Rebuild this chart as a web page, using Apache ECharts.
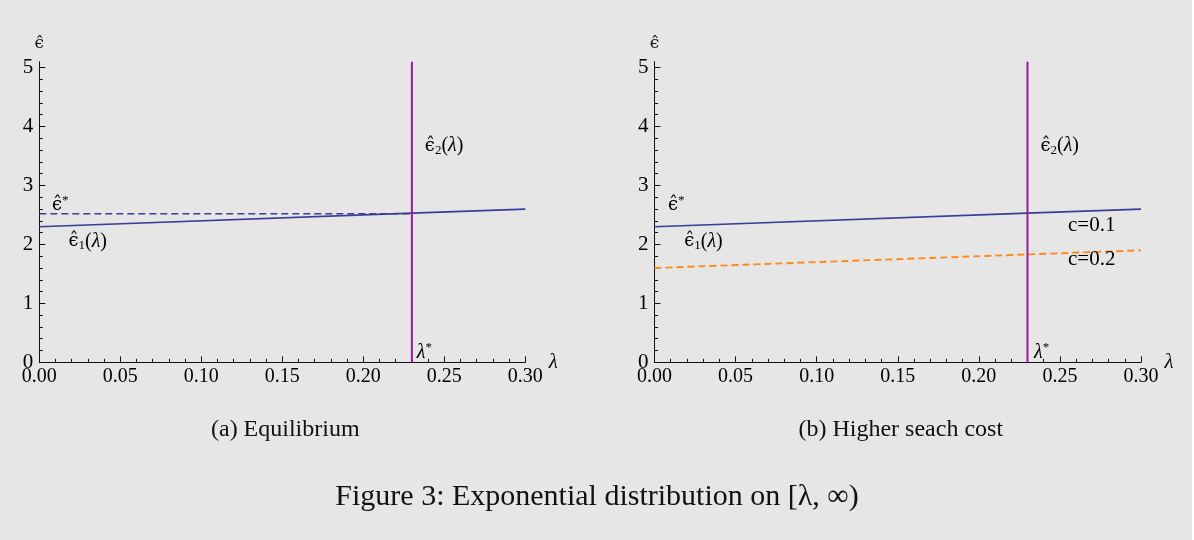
<!DOCTYPE html>
<html><head><meta charset="utf-8">
<script src="https://cdn.jsdelivr.net/npm/echarts@6/dist/echarts.min.js"></script>
<style>
html,body{margin:0;padding:0;background:#ffffff;}
#c{position:absolute;left:0;top:0;width:1192px;height:540px;background:#e6e6e6;}
</style>
</head><body><div id="c"></div>
<script>
// ---- data ----
const lambdaVals   = [0, 0.23, 0.30];          // λ sample points
const eps1_c01     = [2.30, 2.53, 2.60];        // ε̂1(λ), c = 0.1
const eps1_c02     = [1.60, 1.83, 1.90];        // ε̂1(λ), c = 0.2
const epsStarLam   = [0, 0.23];                 // ε̂* dashed line extent
const epsStarVals  = [2.52, 2.52];              // ε̂*
const lambdaStar   = 0.23;                      // λ*
const eps2Span     = [0, 5.1];                  // vertical ε̂2(λ) line span
const xTickVals    = [0, 0.05, 0.10, 0.15, 0.20, 0.25, 0.30];
const yTickVals    = [0, 1, 2, 3, 4, 5];
const yMinorVals   = [0.2,0.4,0.6,0.8,1.2,1.4,1.6,1.8,2.2,2.4,2.6,2.8,3.2,3.4,3.6,3.8,4.2,4.4,4.6,4.8];
const subCaptions  = ['(a) Equilibrium', '(b) Higher seach cost'];
const figCaption   = 'Figure 3: Exponential distribution on [λ, ∞)';

// ---- styling ----
const BLUE = '#3d3d99', PURPLE = '#9b1c9b', ORANGE = '#ff8a1a', INK = '#111111';
const SERIF = '"Liberation Serif","DejaVu Serif",serif';
const MATHF = '"DejaVu Serif","Liberation Serif",serif';

const zip = (a, b) => a.map((v, i) => [v, b[i]]);

function xAxisFor(grid) {
  return {
    type: 'value', gridIndex: grid, min: 0, max: 0.3, interval: 0.05,
    name: 'λ', nameLocation: 'end', nameGap: 8,
    nameTextStyle: {fontFamily: SERIF, fontSize: 21, fontStyle: 'italic', color: INK, verticalAlign: 'middle'},
    axisLine: {show: true, onZero: false, lineStyle: {color: INK, width: 1}},
    axisTick: {show: true, inside: true, length: 6, lineStyle: {color: INK, width: 1}},
    minorTick: {show: true, splitNumber: 5, length: 3.5, lineStyle: {color: INK, width: 1}},
    splitLine: {show: false}, minorSplitLine: {show: false},
    axisLabel: {show: true, margin: 4, fontFamily: SERIF, fontSize: 20, color: '#000',
      formatter: v => v.toFixed(2)}
  };
}
function yAxesFor(grid) {
  return [{
    type: 'value', gridIndex: grid, min: 0, max: 5.1,
    name: 'ϵ̂', nameLocation: 'end', nameGap: 10,
    nameTextStyle: {fontFamily: MATHF, fontSize: 17, color: INK, align: 'center'},
    axisLine: {show: true, onZero: false, lineStyle: {color: INK, width: 1}},
    axisTick: {show: true, inside: true, length: 6, customValues: yTickVals, lineStyle: {color: INK, width: 1}},
    splitLine: {show: false},
    axisLabel: {show: true, margin: 6, fontFamily: SERIF, fontSize: 21, color: '#000', customValues: yTickVals}
  }, {
    type: 'value', gridIndex: grid, min: 0, max: 5.1, position: 'left',
    axisLine: {show: false},
    axisTick: {show: true, inside: true, length: 3.5, customValues: yMinorVals, lineStyle: {color: INK, width: 1}},
    splitLine: {show: false},
    axisLabel: {show: false}
  }];
}
function lineSeries(xi, yi, data, color, width, dashed, z) {
  return {
    type: 'line', xAxisIndex: xi, yAxisIndex: yi, data: data, symbol: 'none',
    animation: false, silent: true, z: z || 2,
    lineStyle: {color: color, width: width, type: dashed ? [7, 4] : 'solid'}
  };
}

const grids = [
  {left: 39.3, top: 61.7, width: 486, height: 300.6},
  {left: 654.5, top: 61.7, width: 486.5, height: 300.6}
];

const chart = echarts.init(document.getElementById('c'), null, {renderer: 'canvas'});
chart.setOption({
  backgroundColor: '#e6e6e6',
  animation: false,
  grid: grids,
  xAxis: [xAxisFor(0), xAxisFor(1)],
  yAxis: [...yAxesFor(0), ...yAxesFor(1)],
  series: [
    lineSeries(0, 0, zip(epsStarLam, epsStarVals), BLUE, 1.4, true, 2),
    lineSeries(0, 0, zip(lambdaVals, eps1_c01), BLUE, 1.7, false, 3),
    lineSeries(0, 0, [[lambdaStar, eps2Span[0]], [lambdaStar, eps2Span[1]]], PURPLE, 2, false, 4),
    lineSeries(1, 2, zip(lambdaVals, eps1_c01), BLUE, 1.7, false, 3),
    lineSeries(1, 2, zip(lambdaVals, eps1_c02), ORANGE, 1.9, true, 3),
    lineSeries(1, 2, [[lambdaStar, eps2Span[0]], [lambdaStar, eps2Span[1]]], PURPLE, 2, false, 4)
  ]
});

// ---- annotations (placed in data coordinates) ----
const rich = {
  e:   {fontFamily: MATHF, fontSize: 18, color: INK},
  t:   {fontFamily: SERIF, fontSize: 20, color: INK},
  l:   {fontFamily: SERIF, fontSize: 20, fontStyle: 'italic', color: INK},
  c:   {fontFamily: SERIF, fontSize: 21, color: '#000'},
  sub: {fontFamily: SERIF, fontSize: 13, color: INK, padding: [9, 0, 0, 0]},
  sup: {fontFamily: SERIF, fontSize: 13, color: INK, padding: [0, 0, 10, 0]}
};
const annText = {
  eStar: '{e|ϵ̂}{sup|*}',
  e1:    '{e|ϵ̂}{sub|1}{t|(}{l|λ}{t|)}',
  e2:    '{e|ϵ̂}{sub|2}{t|(}{l|λ}{t|)}',
  lStar: '{l|λ}{sup|*}',
  c1:    '{c|c=0.1}',
  c2:    '{c|c=0.2}'
};
const annotations = [
  {p: 0, key: 'eStar', at: [0.0078, 2.66]},
  {p: 0, key: 'e1',    at: [0.018, 2.05]},
  {p: 0, key: 'e2',    at: [0.238, 3.67]},
  {p: 0, key: 'lStar', at: [0.233, 0.16]},
  {p: 1, key: 'eStar', at: [0.0083, 2.66]},
  {p: 1, key: 'e1',    at: [0.0183, 2.05]},
  {p: 1, key: 'e2',    at: [0.238, 3.67]},
  {p: 1, key: 'lStar', at: [0.234, 0.16]},
  {p: 1, key: 'c1',    at: [0.255, 2.32]},
  {p: 1, key: 'c2',    at: [0.255, 1.74]}
];
const graphics = annotations.map(a => {
  const px = chart.convertToPixel({xAxisIndex: a.p, yAxisIndex: a.p * 2}, a.at);
  return {type: 'text', x: px[0], y: px[1], z: 10, silent: true,
    style: {text: annText[a.key], rich: rich, align: 'left', verticalAlign: 'middle'}};
});
grids.forEach((g, i) => {
  graphics.push({type: 'text', x: g.left + g.width / 2 + 3, y: 430, silent: true,
    style: {text: subCaptions[i], fontFamily: SERIF, fontSize: 24, fill: INK, align: 'center', verticalAlign: 'middle'}});
});
graphics.push({type: 'text', x: 597, y: 497, silent: true,
  style: {text: figCaption, fontFamily: SERIF, fontSize: 30, fill: INK, align: 'center', verticalAlign: 'middle'}});
chart.setOption({graphic: graphics});
</script>
</body></html>
